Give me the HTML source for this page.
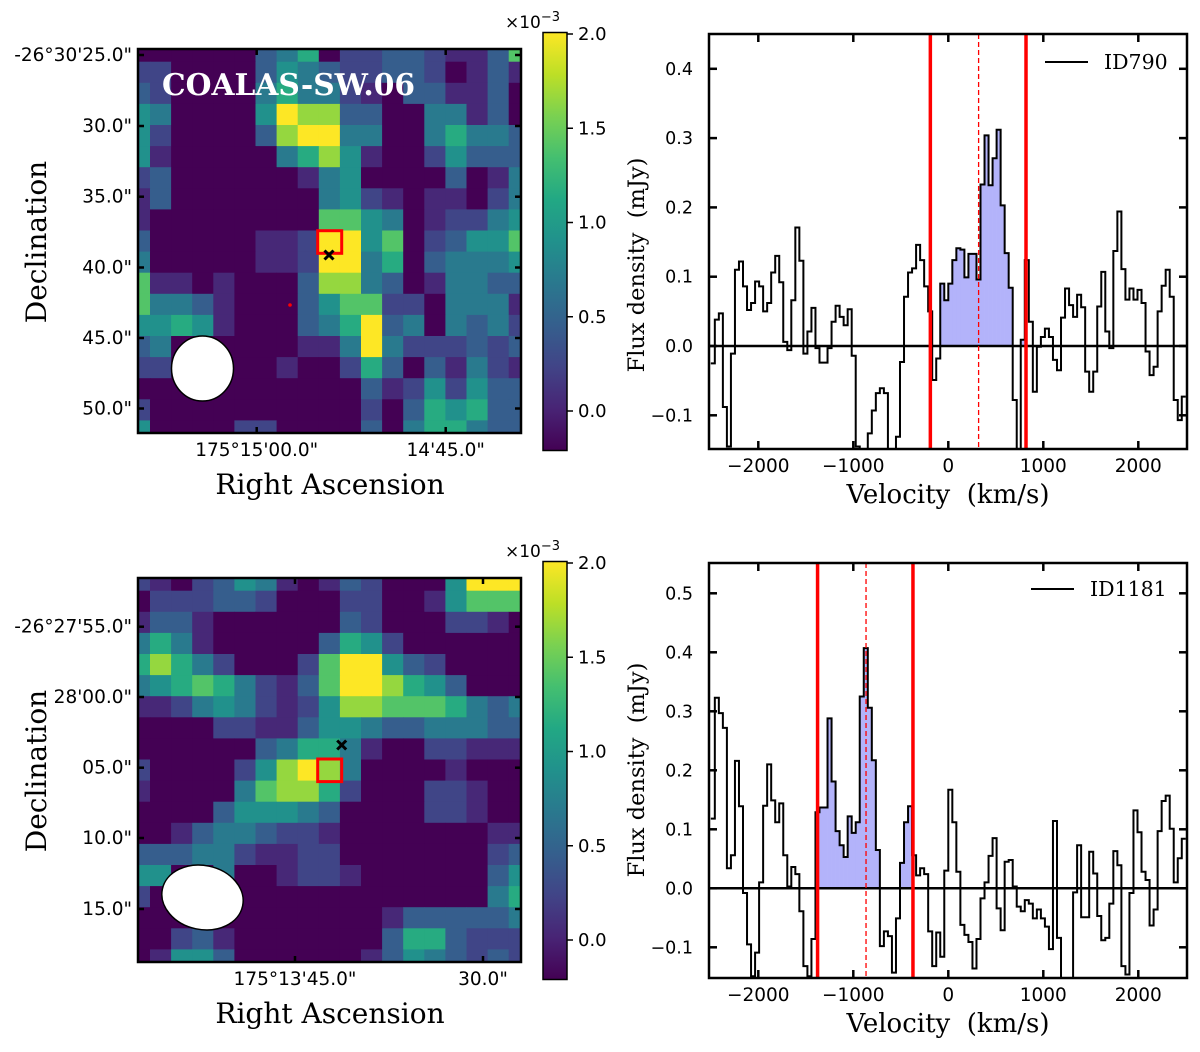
<!DOCTYPE html>
<html><head><meta charset="utf-8"><style>
html,body{margin:0;padding:0;background:#fff;}
svg{display:block;}
text{white-space:pre;}
</style></head><body>
<svg id="fig" xmlns="http://www.w3.org/2000/svg" width="1200" height="1052" viewBox="0 0 1200 1052"></svg>
<script>
// ---------- DATA ----------
const map1Rows = [
[-.2,-.2,-.2,-.2,-.2,-.2,.45,.7,1.15,-.2,.25,.25,.45,.45,.25,.05,.05,.45,1.4],
[.25,.25,-.2,-.2,-.2,-.2,.45,.9,.7,.45,.25,.25,.45,.45,.25,-.2,.05,.45,.05],
[.45,.25,-.2,-.2,-.2,-.2,.7,1.15,.7,.7,.25,.05,-.2,.45,.45,.05,.05,.45,-.2],
[.9,.7,-.2,-.2,-.2,-.2,.9,2.0,1.65,1.65,.45,.45,-.2,-.2,.7,.7,.05,.45,-.2],
[.9,.25,-.2,-.2,-.2,-.2,.45,1.65,2.0,2.0,.7,.7,-.2,-.2,.7,1.15,.7,.7,.45],
[.9,.05,-.2,-.2,-.2,-.2,-.2,.7,1.15,1.65,.9,.05,-.2,-.2,.25,.9,.45,.45,.45],
[.25,.45,-.2,-.2,-.2,-.2,-.2,-.2,.05,.7,.9,-.2,-.2,-.2,-.2,.45,-.2,.05,.7],
[.05,.45,-.2,-.2,-.2,-.2,-.2,-.2,-.2,.7,.9,.25,.05,-.2,.05,.05,-.2,.25,.7],
[.05,-.2,-.2,-.2,-.2,-.2,-.2,-.2,-.2,1.4,1.4,.9,.7,-.2,.05,.25,.25,.7,.9],
[.45,-.2,-.2,-.2,-.2,-.2,.05,.05,.25,2.0,2.0,.9,1.4,-.2,.25,.45,.9,.9,1.4],
[.7,-.2,-.2,-.2,-.2,-.2,.05,.05,.25,2.0,2.0,.7,1.15,-.2,.45,.7,.7,.7,.9],
[1.4,.05,.05,-.2,.05,-.2,-.2,-.2,.45,1.65,1.65,.7,.45,-.2,.05,.7,.7,.45,.45],
[1.4,.7,.7,.45,.05,-.2,-.2,-.2,.45,.9,1.4,1.4,.25,.25,-.2,.7,.7,.7,.05],
[.9,.9,1.15,.9,.05,-.2,-.2,-.2,.45,.7,1.15,2.0,.45,.7,-.2,.7,.45,.7,.25],
[.45,.7,-.2,-.2,-.2,-.2,-.2,-.2,.05,.05,.7,2.0,.7,.25,.25,.25,.45,.25,.45],
[.25,.25,-.2,-.2,-.2,-.2,-.2,.05,-.2,-.2,.25,1.15,.45,-.2,.45,.05,.7,.25,.05],
[-.2,-.2,-.2,-.2,-.2,-.2,-.2,-.2,-.2,-.2,-.2,.45,.05,.25,.9,.25,.9,.45,.45],
[.25,-.2,-.2,-.2,-.2,-.2,-.2,-.2,-.2,-.2,-.2,.25,-.2,.45,1.15,.9,1.15,.45,.45],
[.9,-.2,-.2,-.2,-.2,.25,.25,-.2,-.2,-.2,-.2,.45,-.2,.7,1.15,1.15,.7,.45,.45]
];
const map2Rows = [
[.25,.05,-.2,.25,.45,.9,.7,.05,-.2,.05,.45,.25,-.2,-.2,-.2,.9,2.0,2.0,2.0],
[-.2,.25,.25,.25,.45,.45,.25,-.2,-.2,-.2,.25,.25,-.2,-.2,.05,.9,1.4,1.4,1.4],
[.05,.45,.45,.05,-.2,-.2,-.2,-.2,-.2,-.2,.45,.25,-.2,-.2,-.2,.25,.25,.05,-.2],
[.7,1.15,.7,.05,-.2,-.2,-.2,-.2,-.2,.45,1.15,.9,.25,-.2,-.2,-.2,-.2,-.2,-.2],
[1.15,1.65,1.15,.7,.25,-.2,-.2,-.2,.25,1.4,2.0,2.0,.9,.45,.25,-.2,-.2,-.2,-.2],
[.7,.9,1.15,1.4,1.15,.7,.25,.05,.45,1.4,2.0,2.0,1.65,1.15,.9,.45,-.2,-.2,-.2],
[.05,.05,.25,.7,.9,.7,.25,.05,.25,.9,1.65,1.65,1.4,1.4,1.4,1.15,.7,.45,.7],
[-.2,-.2,-.2,-.2,.25,.25,.05,.05,.45,.9,.9,.7,.45,.45,.7,.7,.7,.45,.45],
[-.2,-.2,-.2,-.2,-.2,-.2,.45,.7,1.15,1.15,.7,.05,-.2,-.2,.25,.25,.05,.05,.05],
[.25,-.2,-.2,-.2,-.2,.25,.9,1.65,2.0,1.65,.7,-.2,-.2,-.2,-.2,.05,-.2,-.2,-.2],
[.05,-.2,-.2,-.2,-.2,.7,1.4,1.65,1.65,1.15,.25,-.2,-.2,-.2,.25,.25,.05,-.2,-.2],
[-.2,-.2,-.2,-.2,.45,.9,.9,.9,.7,.45,-.2,-.2,-.2,-.2,.25,.25,.05,-.2,-.2],
[-.2,-.2,.05,.45,.7,.7,.45,.25,.25,.05,-.2,-.2,-.2,-.2,-.2,-.2,-.2,.05,.05],
[.45,.45,.45,.7,.7,.25,.05,.05,.25,.25,-.2,-.2,-.2,-.2,-.2,-.2,-.2,.25,.45],
[.9,.9,-.2,-.2,.7,-.2,-.2,.05,.25,.25,.05,-.2,-.2,-.2,-.2,-.2,-.2,.45,.9],
[.25,-.2,-.2,-.2,-.2,-.2,-.2,-.2,-.2,-.2,-.2,-.2,-.2,-.2,-.2,-.2,-.2,.7,1.15],
[-.2,-.2,-.2,-.2,-.2,-.2,-.2,-.2,-.2,-.2,-.2,-.2,.05,.45,.45,.45,.45,.45,.7],
[-.2,-.2,.25,.45,.05,-.2,-.2,-.2,-.2,-.2,-.2,-.2,.45,1.15,1.15,.45,.25,.25,.25],
[-.2,.05,.9,.9,.45,-.2,-.2,-.2,-.2,-.2,-.2,.05,.45,.9,.7,.45,.25,.45,.25]
];
const flux790 = [-0.025,0.038,0.047,-0.088,-0.145,-0.011,0.110,0.122,0.086,0.052,0.062,0.093,0.086,0.050,0.062,0.106,0.130,0.092,0.006,-0.006,0.066,0.171,0.123,-0.011,0.021,0.055,-0.003,-0.024,-0.024,-0.003,0.035,0.058,0.042,0.030,0.053,-0.014,-0.145,-0.16,-0.16,-0.126,-0.093,-0.068,-0.061,-0.068,-0.16,-0.16,-0.131,-0.023,0.071,0.106,0.112,0.146,0.124,0.086,0.050,-0.049,-0.018,0.090,0.066,0.090,0.124,0.141,0.139,0.099,0.133,0.133,0.096,0.233,0.304,0.232,0.271,0.312,0.203,0.134,0.084,-0.078,-0.16,0.009,0.124,0.035,-0.066,-0.001,0.013,0.025,0.013,-0.020,-0.035,0.041,0.083,0.059,0.042,0.074,0.056,-0.037,-0.066,-0.037,0.057,0.107,0.021,-0.003,0.137,0.194,0.111,0.067,0.083,0.067,0.081,0.062,-0.008,-0.042,-0.030,0.050,0.087,0.110,0.071,-0.078,-0.107,-0.073];
const flux1181 = [0.118,0.323,0.297,0.272,0.034,0.056,0.216,0.139,-0.008,-0.095,-0.149,-0.109,0.010,0.140,0.210,0.149,0.112,0.144,0.056,0.003,0.036,0.024,-0.039,-0.132,-0.149,-0.086,0.129,0.137,0.137,0.288,0.181,0.097,0.073,0.053,0.122,0.094,0.112,0.325,0.407,0.306,0.217,0.065,-0.098,-0.073,-0.081,-0.143,-0.051,0.043,0.112,0.139,0.056,0.022,0.034,0.024,-0.073,-0.132,-0.075,-0.116,0.030,0.167,0.112,0.028,-0.062,-0.079,-0.091,-0.136,-0.086,-0.017,0.010,0.055,0.085,-0.034,-0.071,0.045,0.048,0.003,-0.031,-0.039,-0.020,-0.026,-0.051,-0.036,-0.051,-0.065,-0.103,0.114,-0.084,-0.16,-0.16,-0.16,-0.007,0.073,-0.049,-0.049,0.062,0.025,-0.047,-0.088,-0.084,-0.026,0.063,0.039,-0.132,-0.146,-0.008,0.132,0.095,0.028,0.014,-0.063,-0.036,0.097,0.148,0.157,0.101,0.010,0.051,0.084];
const lines790 = [-189, 818];
const center790 = [319];
const lines1181 = [-1376, -372];
const center1181 = [-866];
const velTicks = [-2000,-1000,0,1000,2000];
const velTickLabels = ["\u22122000","\u22121000","0","1000","2000"];
const fluxTicks790 = [-0.1,0,0.1,0.2,0.3,0.4];
const fluxTickLabels790 = ["\u22120.1","0.0","0.1","0.2","0.3","0.4"];
const fluxTicks1181 = [-0.1,0,0.1,0.2,0.3,0.4,0.5];
const fluxTickLabels1181 = ["\u22120.1","0.0","0.1","0.2","0.3","0.4","0.5"];
const cbTicks = [0,0.5,1.0,1.5,2.0];
const cbTickLabels = ["0.0","0.5","1.0","1.5","2.0"];
const decLabels1 = ["-26\u00b030'25.0\"","30.0\"","35.0\"","40.0\"","45.0\"","50.0\""];
const decLabels2 = ["-26\u00b027'55.0\"","28'00.0\"","05.0\"","10.0\"","15.0\""];
const raLabels1 = ["175\u00b015'00.0\"","14'45.0\""];
const raLabels2 = ["175\u00b013'45.0\"","30.0\""];

// ---------- RENDER ----------
const NS = "http://www.w3.org/2000/svg";
const svg = document.getElementById('fig');
function mk(tag, attrs, name, parent){
  const el = document.createElementNS(NS, tag);
  for (const k in attrs) el.setAttribute(k, attrs[k]);
  
  
  (parent||svg).appendChild(el);
  return el;
}
function txt(x,y,s,name,opts,parent){
  const a = Object.assign({x:x,y:y,'font-family':'DejaVu Sans, Liberation Sans, sans-serif','font-size':18.5,fill:'#000'}, opts||{});
  const t = mk('text', a, name, parent);
  t.textContent = s;
  return t;
}
const VIR = ["#440154","#482475","#414487","#355f8d","#2a788e","#21918c","#22a884","#44bf70","#7ad151","#bddf26","#fde725"];
function hex(h){return [parseInt(h.substr(1,2),16),parseInt(h.substr(3,2),16),parseInt(h.substr(5,2),16)];}
function viridis(t){
  t=Math.max(0,Math.min(1,t)); const f=t*10; const i=Math.min(9,Math.floor(f)); const u=f-i;
  const a=hex(VIR[i]), b=hex(VIR[i+1]);
  return 'rgb('+a.map((v,k)=>Math.round(v+(b[k]-v)*u)).join(',')+')';
}
const defs = mk('defs',{},'defs');
const grad = mk('linearGradient',{id:'vgrad',x1:0,y1:1,x2:0,y2:0},'viridis-gradient',defs);
for(let i=0;i<=10;i++){ mk('stop',{offset:(i/10),'stop-color':VIR[i]},'gradient-stop',grad); }

function drawMap(rows, fy, p){
  const fx0=138, fx1=521, fy0=fy, fy1=fy+384;
  const g = mk('g',{},p.name);
  const cp = mk('clipPath',{id:p.name+'-clip'},'clip',defs);
  mk('rect',{x:fx0,y:fy0,width:fx1-fx0,height:fy1-fy0},'clip-rect',cp);
  const cg = mk('g',{'clip-path':'url(#'+p.name+'-clip)'},'pixels',g);
  const cw=21.1, x0=128.9, y0=fy0+12.7-cw;
  rows.forEach((row,r)=>row.forEach((v,c)=>{
    mk('rect',{x:(x0+c*cw).toFixed(2),y:(y0+r*cw).toFixed(2),width:cw+0.4,height:cw+0.4,fill:viridis((v+0.2)/2.2)},'pixel-cell',cg);
  }));
  mk('ellipse',{cx:p.beam[0],cy:p.beam[1],rx:p.beam[2],ry:p.beam[3],fill:'#fff',stroke:'#000','stroke-width':1.5,transform:'rotate('+p.beam[4]+' '+p.beam[0]+' '+p.beam[1]+')'},'beam-ellipse',g);
  mk('rect',{x:p.sq[0],y:p.sq[1],width:24,height:22.6,fill:'none',stroke:'#f00','stroke-width':3},'aperture-square',g);
  const m=p.cross, s=4.5;
  mk('path',{d:`M${m[0]-s},${m[1]-s}L${m[0]+s},${m[1]+s}M${m[0]-s},${m[1]+s}L${m[0]+s},${m[1]-s}`,stroke:'#000','stroke-width':3},'source-marker',g);
  if(p.dot) mk('circle',{cx:p.dot[0],cy:p.dot[1],r:1.8,fill:'#f00'},'center-dot',g);
  mk('rect',{x:fx0,y:fy0,width:fx1-fx0,height:fy1-fy0,fill:'none',stroke:'#000','stroke-width':2.5},'map-frame',g);
  p.yt.forEach((y,i)=>{
    mk('line',{x1:fx0,x2:fx0+6,y1:y,y2:y,stroke:'#000','stroke-width':2.5},'y-tick',g);
    mk('line',{x1:fx1,x2:fx1-6,y1:y,y2:y,stroke:'#000','stroke-width':2.5},'y-tick',g);
    txt(132,y+6,p.yl[i],'dec-tick-label',{'text-anchor':'end'},g);
  });
  p.xt.forEach((x,i)=>{
    mk('line',{x1:x,x2:x,y1:fy0,y2:fy0+6,stroke:'#000','stroke-width':2.5},'x-tick',g);
    mk('line',{x1:x,x2:x,y1:fy1,y2:fy1-6,stroke:'#000','stroke-width':2.5},'x-tick',g);
    txt(x,fy1+23,p.xl[i],'ra-tick-label',{'text-anchor':'middle'},g);
  });
  txt(330,fy1+61,'Right Ascension','x-axis-title',{'text-anchor':'middle','font-family':'DejaVu Serif, Liberation Serif, serif','font-size':28},g);
  txt(0,0,'Declination','y-axis-title',{'text-anchor':'middle','font-family':'DejaVu Serif, Liberation Serif, serif','font-size':28,transform:`translate(46,${fy0+193}) rotate(-90)`},g);
  const cy0=fy-16, zero=cy0+378, sc=188.5;
  mk('rect',{x:543,y:cy0-0.5,width:24,height:418,fill:'url(#vgrad)',stroke:'#000','stroke-width':1.5},'colorbar',g);
  cbTicks.forEach((t,i)=>{
    const y=zero-t*sc;
    mk('line',{x1:567,x2:573,y1:y,y2:y,stroke:'#000','stroke-width':1.5},'colorbar-tick',g);
    txt(578,y+6,cbTickLabels[i],'colorbar-tick-label',{'font-size':18},g);
  });
  const ex=txt(505,cy0-5,'\u00d710','colorbar-exponent',{'font-size':17},g);
  const sp=mk('tspan',{dy:-7,'font-size':13},'exponent-power',ex); sp.textContent='\u22123';
}
drawMap(map1Rows,49,{name:'map-id790',beam:[202.5,368.5,31,32.5,0],sq:[317.7,230.7],cross:[329,255],dot:[290,305],
  yt:[55,126,196.7,267.5,338,408.5],yl:decLabels1,xt:[256.7,445.7],xl:raLabels1});
drawMap(map2Rows,578,{name:'map-id1181',beam:[202.5,897.5,41,32,12],sq:[317.7,759],cross:[341.7,745],dot:null,
  yt:[626.7,697,767.7,838,909],yl:decLabels2,xt:[295,483],xl:raLabels2});
txt(162,95,'COALAS-SW.06','field-title',{'font-family':'DejaVu Serif, Liberation Serif, serif','font-weight':'bold','font-size':30,fill:'#fff',textLength:253,lengthAdjust:'spacingAndGlyphs'});

function drawSpec(flux, p){
  const X0=709, X1=1187, Y0=p.top, Y1=p.bot;
  const g = mk('g',{},p.name);
  const xs = v => 948.3 + v*0.095;
  const ys = f => p.zero - f*p.sc;
  const dv = 5000/flux.length, v0=-2500;
  const cp = mk('clipPath',{id:p.name+'-clip'},'clip',defs);
  mk('rect',{x:X0,y:Y0,width:X1-X0,height:Y1-Y0},'clip-rect',cp);
  const cg = mk('g',{'clip-path':'url(#'+p.name+'-clip)'},'plot-area',g);
  flux.forEach((f,i)=>{
    const a=v0+i*dv, b=a+dv;
    if(f>0 && b>p.win[0] && a<p.win[1]){
      const xa=xs(Math.max(a,p.win[0])), xb=xs(Math.min(b,p.win[1]));
      mk('rect',{x:xa,y:ys(f),width:xb-xa+0.3,height:ys(0)-ys(f),fill:'#b3b3fa'},'line-flux-fill',cg);
    }
  });
  let d='';
  flux.forEach((f,i)=>{ const a=xs(v0+i*dv), b=xs(v0+(i+1)*dv), y=ys(f);
    d += (i===0?`M${a},${y}`:`L${a},${y}`)+`L${b},${y}`; });
  mk('path',{d:d,fill:'none',stroke:'#000','stroke-width':2},'spectrum-line',cg);
  mk('line',{x1:X0,x2:X1,y1:ys(0),y2:ys(0),stroke:'#000','stroke-width':2.5},'zero-line',cg);
  p.win.forEach(v=>mk('line',{x1:xs(v),x2:xs(v),y1:Y0,y2:Y1,stroke:'#f00','stroke-width':3.5},'window-line',cg));
  p.cen.forEach(v=>mk('line',{x1:xs(v),x2:xs(v),y1:Y0,y2:Y1,stroke:'#f00','stroke-width':1.3,'stroke-dasharray':'5,3'},'center-velocity-line',cg));
  mk('rect',{x:X0,y:Y0,width:X1-X0,height:Y1-Y0,fill:'none',stroke:'#000','stroke-width':2.5},'spectrum-frame',g);
  velTicks.forEach((v,i)=>{
    const x=xs(v);
    mk('line',{x1:x,x2:x,y1:Y1,y2:Y1-8,stroke:'#000','stroke-width':2.5},'x-tick',g);
    mk('line',{x1:x,x2:x,y1:Y0,y2:Y0+8,stroke:'#000','stroke-width':2.5},'x-tick',g);
    txt(x,Y1+23,velTickLabels[i],'velocity-tick-label',{'text-anchor':'middle','font-size':18.5},g);
  });
  p.yt.forEach((t,i)=>{
    const y=ys(t);
    mk('line',{x1:X0,x2:X0+8,y1:y,y2:y,stroke:'#000','stroke-width':2.5},'y-tick',g);
    mk('line',{x1:X1,x2:X1-8,y1:y,y2:y,stroke:'#000','stroke-width':2.5},'y-tick',g);
    txt(693,y+6,p.yl[i],'flux-tick-label',{'text-anchor':'end','font-size':17.5},g);
  });
  txt(948,Y1+54,'Velocity  (km/s)','x-axis-title',{'text-anchor':'middle','font-family':'DejaVu Serif, Liberation Serif, serif','font-size':26},g);
  txt(0,0,'Flux density  (mJy)','y-axis-title',{'text-anchor':'middle','font-family':'DejaVu Serif, Liberation Serif, serif','font-size':22.5,transform:`translate(644,${p.ylc}) rotate(-90)`},g);
  mk('line',{x1:p.leg[0],x2:p.leg[0]+43,y1:p.leg[1],y2:p.leg[1],stroke:'#000','stroke-width':2},'legend-line',g);
  txt(p.leg[0]+59,p.leg[1]+7,p.label,'legend-label',{'font-family':'DejaVu Serif, Liberation Serif, serif','font-size':20.5},g);
}
drawSpec(flux790,{name:'spectrum-id790',top:34,bot:449,zero:346,sc:693,win:lines790,cen:center790,yt:fluxTicks790,yl:fluxTickLabels790,ylc:265,leg:[1045,62],label:'ID790'});
drawSpec(flux1181,{name:'spectrum-id1181',top:563,bot:978,zero:888.3,sc:590,win:lines1181,cen:center1181,yt:fluxTicks1181,yl:fluxTickLabels1181,ylc:770,leg:[1031,589],label:'ID1181'});
</script>
</body></html>
